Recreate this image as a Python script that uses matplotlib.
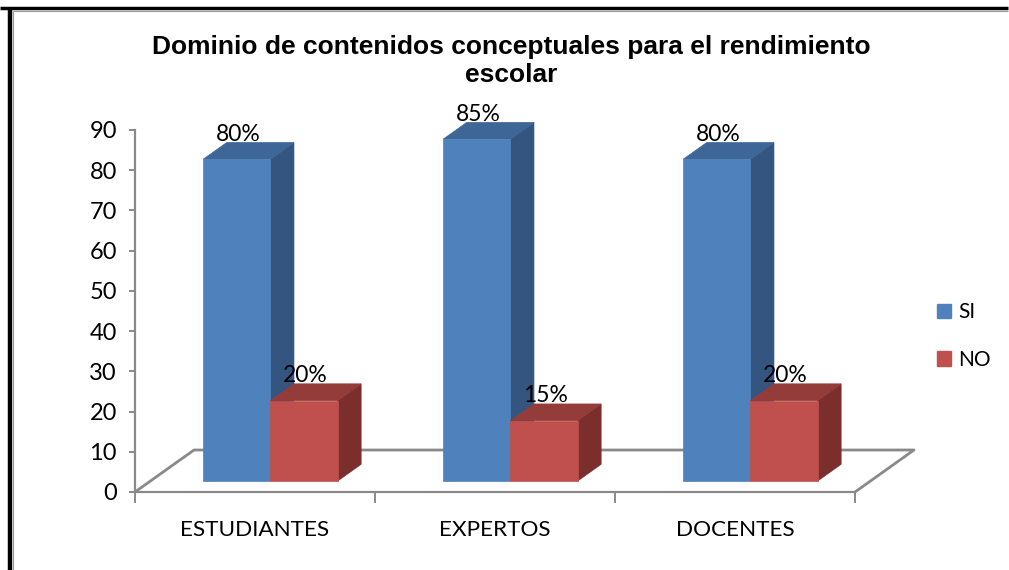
import matplotlib
matplotlib.use("Agg")
import matplotlib.pyplot as plt
from matplotlib.patches import Polygon, Patch
from matplotlib.lines import Line2D

categories = ["ESTUDIANTES", "EXPERTOS", "DOCENTES"]
si_values = [80, 85, 80]
no_values = [20, 15, 20]
si_labels = ["80%", "85%", "80%"]
no_labels = ["20%", "15%", "20%"]
series_names = ["SI", "NO"]
yticks = [0, 10, 20, 30, 40, 50, 60, 70, 80, 90]
title = "Dominio de contenidos conceptuales para el rendimiento\nescolar"

W, H = 1009, 570
fig = plt.figure(figsize=(W / 100, H / 100), dpi=100)
fig.patch.set_facecolor("white")

body_font = ["Lato", "DejaVu Sans"]
title_font = ["Liberation Sans", "DejaVu Sans"]
GRAY = "#898989"

ax = fig.add_axes([135 / W, (H - 492) / H, 720 / W, 362 / H])
ax.set_xlim(-0.5, 2.5)
ax.set_ylim(0, 90)
ax.set_facecolor("none")

# 3D depth of floor in data units
DX = 59 / 240.0
DY = 10.44
F0, F1 = 0.26, 0.66   # front / back depth fraction of bars
BW = 0.28             # bar width

colors = {
    "SI": ("#4F81BD", "#3E6797", "#34557F"),
    "NO": ("#C0504D", "#943C3A", "#7B2E2C"),
}

def P(x, y, f):
    return (x + f * DX, y + f * DY)

# floor outline (left side, back, right side)
floor_x = [-0.5, -0.5 + DX, 2.5 + DX, 2.5]
floor_y = [0, DY, DY, 0]
ax.add_line(Line2D(floor_x, floor_y, color=GRAY, lw=2.0, clip_on=False, zorder=1))

def draw_bar(x0, val, key, z):
    front, top, side = colors[key]
    x1 = x0 + BW
    side_poly = [P(x1, 0, F0), P(x1, 0, F1), P(x1, val, F1), P(x1, val, F0)]
    top_poly = [P(x0, val, F0), P(x1, val, F0), P(x1, val, F1), P(x0, val, F1)]
    front_poly = [P(x0, 0, F0), P(x1, 0, F0), P(x1, val, F0), P(x0, val, F0)]
    for poly, c in ((side_poly, side), (top_poly, top), (front_poly, front)):
        ax.add_patch(Polygon(poly, closed=True, facecolor=c, edgecolor=c,
                             lw=0.5, clip_on=False, zorder=z))

for i in range(len(categories)):
    draw_bar(i - BW, si_values[i], "SI", 2 + i * 2)
    draw_bar(i, no_values[i], "NO", 3 + i * 2)

for i in range(len(categories)):
    for x0, val, lab in ((i - BW, si_values[i], si_labels[i]),
                         (i, no_values[i], no_labels[i])):
        cy = val + F1 * DY
        cx = x0 + BW / 2 + F0 * DX + 0.005
        ax.text(cx, cy + 0.4, lab, ha="center", va="baseline",
                fontsize=16.5, family=body_font, color="black", zorder=20,
                clip_on=False)

# spines
for s in ("top", "right"):
    ax.spines[s].set_visible(False)
for s in ("left", "bottom"):
    ax.spines[s].set_color(GRAY)
    ax.spines[s].set_linewidth(1.6)

ax.set_yticks(yticks)
ax.set_yticklabels([str(v) for v in yticks], family=body_font, fontsize=17)
ax.tick_params(axis="y", direction="out", length=4, width=1.4, color=GRAY, pad=9)

ax.set_xticks(range(len(categories)))
ax.set_xticklabels(categories, family=body_font, fontsize=16.2)
ax.set_xticks([-0.5, 0.5, 1.5, 2.5], minor=True)
ax.tick_params(axis="x", which="major", length=0, pad=20)
ax.tick_params(axis="x", which="minor", direction="out", length=8, width=1.4, color=GRAY)

# title
fig.text(511 / W, 1 - 61 / H, title, ha="center", va="center",
         fontsize=19, fontweight="bold", family=title_font, linespacing=1.25)

# legend
handles = [Patch(facecolor=colors[k][0], edgecolor=colors[k][0]) for k in series_names]
leg = fig.legend(handles, series_names, loc="center left",
                 bbox_to_anchor=(922 / W, 1 - 336 / H), frameon=False,
                 prop={"family": body_font, "size": 15},
                 handlelength=0.7, handleheight=0.7, handletextpad=0.35,
                 labelspacing=1.3, borderpad=0.2)

# outer frame (top and left edges visible)
fig.add_artist(Line2D([0, 1008 / W], [1 - 8 / H, 1 - 8 / H], color="black", lw=2.5,
                      transform=fig.transFigure, solid_capstyle="butt"))
fig.add_artist(Line2D([10 / W, 10 / W], [0, 1 - 8 / H], color="black", lw=3.2,
                      transform=fig.transFigure, solid_capstyle="butt"))
fig.add_artist(Line2D([12.5 / W, 1008 / W], [1 - 10.5 / H, 1 - 10.5 / H], color="#9a9a9a",
                      lw=0.8, transform=fig.transFigure, solid_capstyle="butt"))
fig.add_artist(Line2D([12.5 / W, 12.5 / W], [0, 1 - 10.5 / H], color="#9a9a9a",
                      lw=0.8, transform=fig.transFigure, solid_capstyle="butt"))

fig.savefig("out.png", dpi=100, facecolor="white")
